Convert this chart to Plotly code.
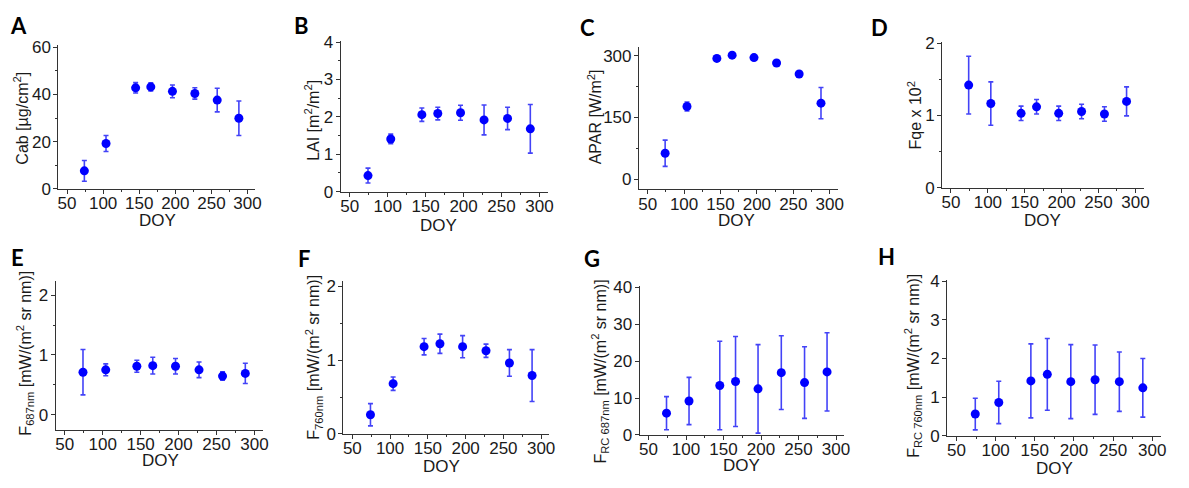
import plotly.graph_objects as go

W, H = 1189, 488

doy = [74, 104, 145, 166, 196, 227, 258, 288]

cab = [7.6, 19.2, 42.8, 43.2, 41.3, 40.4, 37.6, 29.9]
cab_err = [4.4, 3.4, 2.2, 1.7, 2.7, 2.4, 5.0, 7.3]

lai = [0.43, 1.41, 2.06, 2.09, 2.11, 1.92, 1.96, 1.68]
lai_err = [0.2, 0.13, 0.18, 0.17, 0.2, 0.4, 0.3, 0.65]

apar = [63, 177, 294, 302, 296, 283, 256, 185]
apar_err = [32, 11, 4, 4, 4, 4, 4, 38]

fqe = [1.42, 1.165, 1.03, 1.12, 1.03, 1.055, 1.02, 1.195]
fqe_err = [0.40, 0.30, 0.10, 0.10, 0.10, 0.10, 0.10, 0.20]

f687 = [0.71, 0.75, 0.81, 0.82, 0.81, 0.75, 0.645, 0.69]
f687_err = [0.38, 0.10, 0.10, 0.14, 0.13, 0.13, 0.07, 0.17]

f760 = [0.26, 0.68, 1.18, 1.22, 1.18, 1.125, 0.96, 0.79]
f760_err = [0.15, 0.09, 0.11, 0.13, 0.15, 0.09, 0.18, 0.35]

frc687 = [5.9, 9.2, 13.4, 14.5, 12.5, 16.9, 14.2, 17.1]
frc687_err = [4.5, 6.4, 12.0, 12.2, 12.0, 10.0, 9.7, 10.6]

frc760 = [0.56, 0.86, 1.42, 1.59, 1.40, 1.45, 1.40, 1.24]
frc760_err = [0.41, 0.55, 0.96, 0.93, 0.96, 0.90, 0.77, 0.76]

x_ticks = [50, 100, 150, 200, 250, 300]
x_minor = [75, 125, 175, 225, 275]

panels = [
    ("A", cab, cab_err, "Cab [µg/cm<sup>2</sup>]", (57.7, 256, 38.3, 187.7), [0, 61], 20, 10,
     (18, 18), (20, 114), (157, 221)),
    ("B", lai, lai_err, "LAI [m<sup>2</sup>/m<sup>2</sup>]", (341.7, 550, 34.3, 190.7), [0, 4.03], 1, 0.5,
     (302, 18), (313, 117), (440, 226)),
    ("C", apar, apar_err, "APAR [W/m<sup>2</sup>]", (641.7, 841.7, 40, 188.3), [-25, 323], 150, 75,
     (590, 20), (597, 113), (740, 221)),
    ("D", fqe, fqe_err, "Fqe x 10<sup>2</sup>", (946.7, 1149.3, 35, 186.7), [0, 2.02], 1, 0.5,
     (884, 20), (919, 111), (1048, 221)),
    ("E", f687, f687_err, "F<sub>687nm</sub> [mW/(m<sup>2</sup> sr nm)]", (55, 263.3, 283.3, 437.7), [-0.25, 2.24], 1, 0.5,
     (17, 259), (24, 358), (160, 470)),
    ("F", f760, f760_err, "F<sub>760nm</sub> [mW/(m<sup>2</sup> sr nm)]", (344.3, 551.7, 283.3, 442.3), [0, 2.07], 1, 0.5,
     (305, 260), (314, 363), (443, 476)),
    ("G", frc687, frc687_err, "F<sub>RC 687nm</sub> [mW/(m<sup>2</sup> sr nm)]", (642.3, 848.3, 289, 443.3), [0, 40.3], 10, None,
     (594, 260), (603, 377), (745, 475)),
    ("H", frc760, frc760_err, "F<sub>RC 760nm</sub> [mW/(m<sup>2</sup> sr nm)]", (951.7, 1166.7, 282.7, 444), [0, 4.03], 1, None,
     (891, 258), (918, 372), (1060, 478)),
]

fig = go.Figure()
font_fam = "Liberation Sans"
annotations = []

for i, (letter, yv, ev, title, box, yr, dt, mdt, lpos, tpos, dpos) in enumerate(panels):
    n = i + 1
    xa = "x" if n == 1 else f"x{n}"
    ya = "y" if n == 1 else f"y{n}"
    fig.add_trace(go.Scatter(
        x=doy, y=yv, mode="markers", xaxis=xa, yaxis=ya,
        marker=dict(color="#0000ff", size=9),
        error_y=dict(type="data", array=ev, visible=True, color="rgba(20,20,245,0.8)",
                     thickness=1.6, width=2.5),
        showlegend=False, cliponaxis=False,
    ))
    l, r, t, b = box
    xkey = "xaxis" if n == 1 else f"xaxis{n}"
    ykey = "yaxis" if n == 1 else f"yaxis{n}"
    axis_common = dict(showgrid=False, zeroline=False, showline=True, linecolor="#333333",
                       linewidth=1, ticks="outside", tickcolor="#333333", ticklen=4,
                       tickfont=dict(family=font_fam, size=17, color="#1a1a1a"))
    fig.update_layout(**{
        xkey: dict(domain=[l / W, r / W], range=[38, 311], anchor=ya,
                   tickvals=x_ticks, ticklabelstandoff=-5,
                   minor=dict(ticks="outside", ticklen=2, tickvals=x_minor,
                              tickcolor="#333333"),
                   **axis_common),
        ykey: dict(domain=[1 - b / H, 1 - t / H], range=yr, anchor=xa, dtick=dt, tick0=0,
                   ticklabelstandoff=-1,
                   minor=(dict(ticks="outside", ticklen=2, dtick=mdt, tickcolor="#333333") if mdt else dict(ticks="")),
                   **axis_common),
    })
    annotations.append(dict(text=f"<b>{letter}</b>", x=lpos[0] / W, y=1 - lpos[1] / H,
                            xref="paper", yref="paper", showarrow=False,
                            font=dict(family="Lato", size=22, color="black"),
                            xanchor="center", yanchor="middle"))
    annotations.append(dict(text=title, x=tpos[0] / W, y=1 - tpos[1] / H, textangle=-90,
                            xref="paper", yref="paper", showarrow=False,
                            font=dict(family=font_fam, size=16, color="#1a1a1a"),
                            xanchor="center", yanchor="middle"))
    annotations.append(dict(text="DOY", x=dpos[0] / W, y=1 - dpos[1] / H,
                            xref="paper", yref="paper", showarrow=False,
                            font=dict(family=font_fam, size=17, color="#1a1a1a"),
                            xanchor="center", yanchor="middle"))

fig.update_layout(width=W, height=H, margin=dict(l=0, r=0, t=0, b=0),
                  plot_bgcolor="white", paper_bgcolor="white",
                  annotations=annotations)

fig.write_html("out.html")
